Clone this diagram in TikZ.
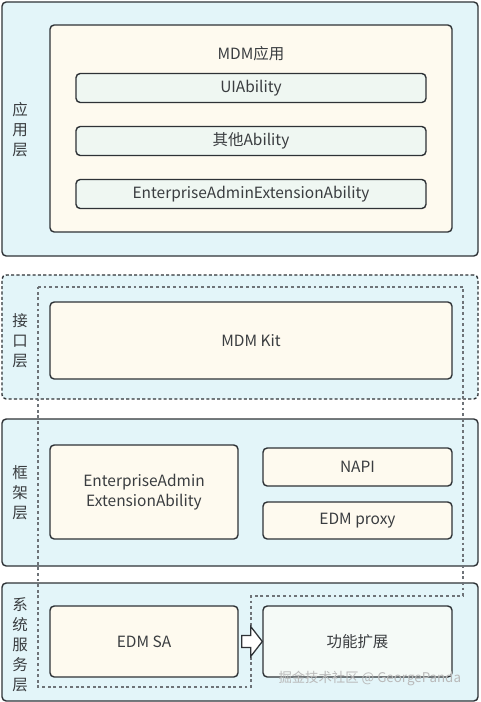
\documentclass[tikz,border=0pt]{standalone}
\usepackage{fontspec}
\setmainfont{Noto Sans CJK SC}
\usetikzlibrary{positioning, calc}

\definecolor{layercyan}{HTML}{E3F5F9}
\definecolor{boxcream}{HTML}{FEFAEF}
\definecolor{boxmint}{HTML}{EFF7F2}
\definecolor{edgegray}{HTML}{2E3236}
\definecolor{textgray}{HTML}{3A3D40}
\definecolor{dashgray}{HTML}{6E7378}
\newcommand{\pxu}{0.025cm}

\begin{document}
\begin{tikzpicture}[x=0.025cm, y=-0.025cm, font=\fontsize{11}{14.2}\selectfont,
    layer/.style={draw=edgegray, fill=layercyan, line width=1pt, rounded corners=3pt,
        minimum width=476*\pxu, inner sep=0pt},
    box/.style={draw=edgegray, fill=boxcream, line width=1pt, rounded corners=3pt,
        inner sep=0pt, align=center, text=textgray},
    ability/.style={box, fill=boxmint, minimum width=350*\pxu, minimum height=29*\pxu},
    lbl/.style={align=center, text=textgray, inner sep=0pt}]

    \useasboundingbox (0,0) rectangle (480,702);

    % Layers
    \node[layer, minimum height=254*\pxu] (appLayer) at (240,129) {};
    \node[layer, dashed, dash pattern=on 2.2pt off 1.6pt, minimum height=124*\pxu] (ifLayer) at (240,337) {};
    \node[layer, minimum height=147*\pxu] (fwLayer) at (240,492.5) {};
    \node[layer, minimum height=118*\pxu] (sysLayer) at (240,642) {};

    % Layer names
    \node[lbl] (appLbl) at (20,130) {应\\用\\层};
    \node[lbl] (ifLbl) at (20,341) {接\\口\\层};
    \node[lbl] (fwLbl) at (20,493) {框\\架\\层};
    \node[lbl] (sysLbl) at (20,645) {系\\统\\服\\务\\层};

    % Extension boundary
    \coordinate (bTL) at (38,287);
    \coordinate (bTR) at (463,287);
    \coordinate (bR) at (463,596);
    \coordinate (bM) at (251,596);
    \coordinate (bB) at (251,687);
    \coordinate (bBL) at (38,687);
    \draw[dashgray, line width=0.9pt, dash pattern=on 2pt off 2pt]
        (bTL) -- (bTR) -- (bR) -- (bM) -- (bB) -- (bBL) -- cycle;

    % MDM app
    \node[box, minimum width=402*\pxu, minimum height=207*\pxu] (mdmApp) at (251,128.5) {};
    \node[lbl] (mdmAppTxt) at (251,54) {MDM应用};
    \foreach \y/\name/\txt in {88/uiAb/UIAbility, 141/otherAb/其他Ability,
                                194/eaeAb/EnterpriseAdminExtensionAbility} {
        \node[ability] (\name) at (251,\y) {\txt};
    }

    % MDM Kit
    \node[box, minimum width=402*\pxu, minimum height=77*\pxu] (mdmKit) at (251,340.5) {MDM Kit};

    % Framework
    \node[box, minimum width=188*\pxu, minimum height=94*\pxu] (eaeFw) at (144,492)
        {EnterpriseAdmin\\ExtensionAbility};
    \node[box, minimum width=189*\pxu, minimum height=38*\pxu] (napi) at (357.5,467) {NAPI};
    \node[box, minimum width=189*\pxu, minimum height=37*\pxu] (edmProxy) at (357.5,520.5) {EDM proxy};

    % System service
    \node[box, minimum width=188*\pxu, minimum height=71*\pxu] (edmSa) at (144,641.5) {EDM SA};
    \node[box, fill=boxmint!60!white, minimum width=189*\pxu, minimum height=71*\pxu] (funcExt)
        at (357.5,641.5) {功能扩展};

    % Hollow arrow EDM SA -> extension
    \draw[edgegray, fill=white, line width=0.9pt, line join=miter]
        ($(edmSa.east)+(3,-6)$) -- ($(edmSa.east)+(12,-6)$) -- ($(edmSa.east)+(12,-15)$)
        -- (funcExt.west) -- ($(edmSa.east)+(12,15)$) -- ($(edmSa.east)+(12,6)$)
        -- ($(edmSa.east)+(3,6)$) -- cycle;

    % Watermark
    \node[anchor=east, text=gray!55, font=\fontsize{9.5}{11}\selectfont] (wm) at (466,678)
        {掘金技术社区 @ GeorgePanda};

\end{tikzpicture}
\end{document}
